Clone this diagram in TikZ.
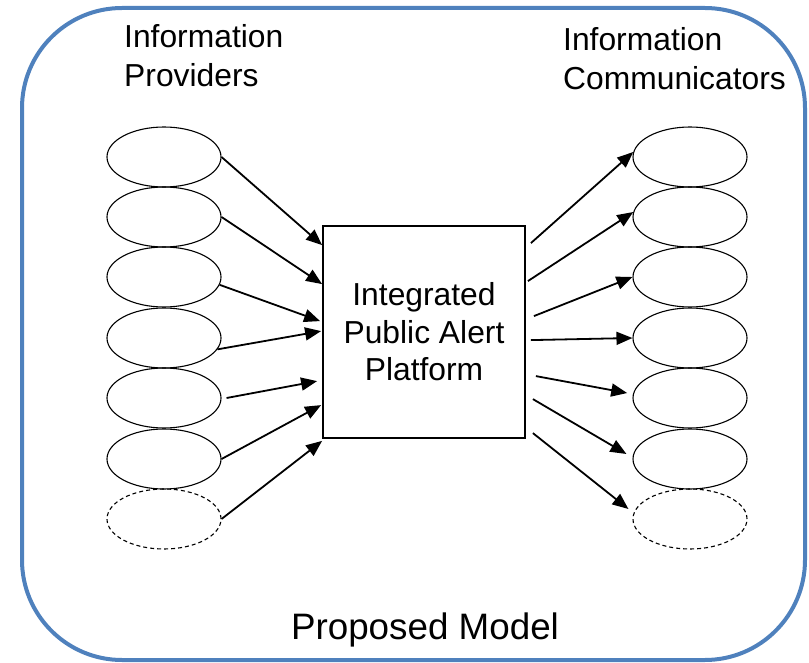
\documentclass[tikz,border=0pt]{standalone}
\usepackage{fontspec}
\setmainfont{Liberation Sans}
\usetikzlibrary{shapes.geometric,arrows.meta}
\definecolor{frameblue}{RGB}{79,129,189}
\begin{document}
\begin{tikzpicture}[x=1pt,y=-1pt,
  oval/.style={draw,ellipse,minimum width=114pt,minimum height=60pt,inner sep=0pt,line width=1.1pt},
  dashedoval/.style={oval,dash pattern=on 4pt off 3pt},
  arr/.style={line width=1.8pt,-{Triangle[length=16pt,width=13pt]}},
  title/.style={font=\fontsize{31.8}{39}\selectfont,align=left,anchor=north west,inner sep=0pt},
  ]
\useasboundingbox (0,0) rectangle (809,663);
\draw[frameblue,line width=4pt,rounded corners=100pt] (22,8) rectangle (805,660);

\node[title] (prov) at (124,24) {Information\\Providers};
\node[title] (comm) at (563,27) {Information\\Communicators};

\node[draw,line width=1.8pt,minimum width=202pt,minimum height=212pt,inner sep=0pt,
      align=center,font=\fontsize{31.8}{37.5}\selectfont] (box) at (424,332)
      {Integrated\\Public Alert\\Platform};

\node[oval] (l1) at (164,157) {};
\node[oval] (l2) at (164,217) {};
\node[oval] (l3) at (164,277) {};
\node[oval] (l4) at (164,338) {};
\node[oval] (l5) at (164,398) {};
\node[oval] (l6) at (164,459) {};
\node[dashedoval] (l7) at (164,519) {};

\node[oval] (r1) at (690,157) {};
\node[oval] (r2) at (690,217) {};
\node[oval] (r3) at (690,277) {};
\node[oval] (r4) at (690,338) {};
\node[oval] (r5) at (690,398) {};
\node[oval] (r6) at (690,459) {};
\node[dashedoval] (r7) at (690,519) {};

\draw[arr] (l1.east) -- ([yshift=-20pt]box.north west);
\draw[arr] (l2.east) -- ([yshift=-59pt]box.north west);
\draw[arr] (l3.-8) -- ([xshift=-2pt,yshift=-96pt]box.north west);
\draw[arr] (l4.-12) -- ([xshift=-1pt,yshift=-106pt]box.north west);
\draw[arr] ([xshift=5pt]l5.east) -- ([xshift=-5pt,yshift=-156pt]box.north west);
\draw[arr] (l6.east) -- ([xshift=-1pt,yshift=-180pt]box.north west);
\draw[arr] (l7.east) -- ([yshift=-2pt]box.south west);

\draw[arr] ([xshift=5pt,yshift=-18pt]box.north east) -- (r1.175);
\draw[arr] ([xshift=2pt,yshift=-56pt]box.north east) -- (r2.175);
\draw[arr] ([xshift=8pt,yshift=-91pt]box.north east) -- (r3.west);
\draw[arr] ([xshift=5pt,yshift=-115pt]box.north east) -- (r4.west);
\draw[arr] ([xshift=10pt,yshift=-151pt]box.north east) -- ([xshift=-6pt]r5.175);
\draw[arr] ([xshift=7pt,yshift=-174pt]box.north east) -- ([xshift=-6pt,yshift=5pt]r6.west);
\draw[arr] ([xshift=7pt,yshift=-208pt]box.north east) -- ([xshift=-4pt,yshift=10pt]r7.west);

\node[font=\fontsize{36.8}{40}\selectfont,anchor=base,inner sep=0pt] (model) at (425,639) {Proposed Model};
\end{tikzpicture}
\end{document}
